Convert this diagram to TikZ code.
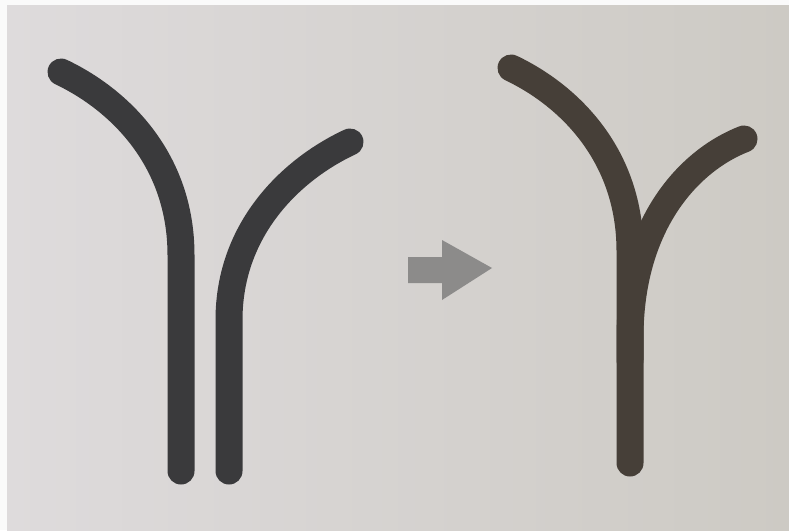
\documentclass[tikz,border=0pt]{standalone}
\begin{document}
\begin{tikzpicture}[x=1pt,y=-1pt,
  stroke/.style={line width=27pt,line cap=round},
  grayink/.style={stroke,draw=inkA},
  brownink/.style={stroke,draw=inkB}]
\definecolor{inkA}{HTML}{3A3A3C}
\definecolor{inkB}{HTML}{463F38}
\definecolor{bgL}{HTML}{DEDBDC}
\definecolor{bgR}{HTML}{CDCAC4}
\definecolor{arrowgray}{HTML}{8C8B8A}
\useasboundingbox (0,0) rectangle (789,530);
\fill[white!96!gray] (0,0) rectangle (789,530);
\shade[left color=bgL,right color=bgR] (7,5) rectangle (789,530);
% left: two separate strokes
\draw[grayink] (61,72) .. controls (120,100) and (181,160) .. (181,255) -- (181,471);
\draw[grayink] (350,142) .. controls (290,170) and (229,230) .. (229,320) -- (229,471);
% arrow
\fill[arrowgray] (408,257) -- (442,257) -- (442,240) -- (492,268) -- (442,300) -- (442,283) -- (408,283) -- cycle;
% right: merged strokes
\draw[brownink] (511,68) .. controls (570,96) and (630,156) .. (630,251) -- (630,463);
\draw[brownink] (744,139) .. controls (690,160) and (631,222) .. (630,335) -- (630,360);
\end{tikzpicture}
\end{document}
